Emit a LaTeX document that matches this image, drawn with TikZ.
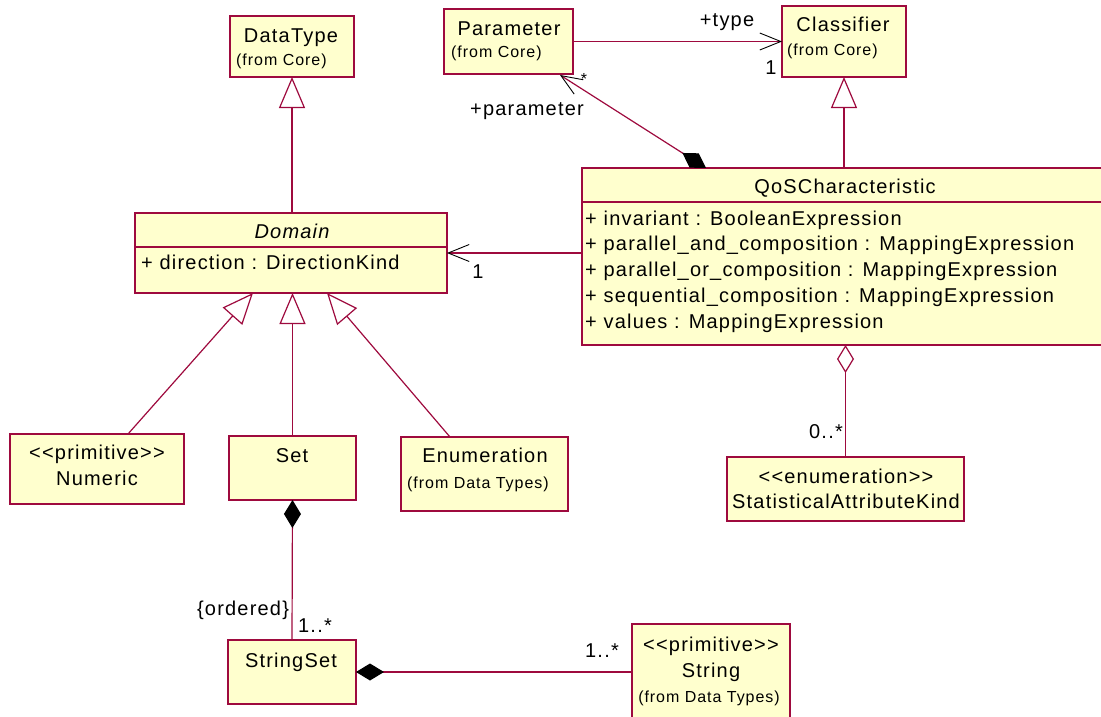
\documentclass[tikz,border=0pt]{standalone}
\usepackage{fontspec}
\setmainfont{Liberation Sans}[LetterSpace=6]
\usetikzlibrary{arrows.meta,calc}
\definecolor{umlline}{RGB}{158,10,62}
\definecolor{umlfill}{RGB}{255,255,206}
\begin{document}
\begin{tikzpicture}[x=1pt,y=-1pt,
  box/.style={draw=umlline, fill=umlfill, line width=1.3pt, inner sep=0pt, outer sep=0pt, anchor=north west},
  txt/.style={font=\fontsize{20}{24}\selectfont, inner sep=0pt, anchor=base},
  sml/.style={font=\fontsize{16}{19}\selectfont, inner sep=0pt, anchor=base},
  link/.style={draw=umlline, line width=1.2pt},
  gen/.style={link, -{Triangle[length=31pt, width=26pt, fill=white, line width=1.2pt]}},
  nav/.style={link, -{Straight Barb[length=21pt, width=17pt, color=black, line width=0.9pt]}},
  comp/.style={link, {Diamond[length=28pt, width=17pt, color=black, fill=black]}-},
  compnav/.style={link, {Diamond[length=28pt, width=17pt, color=black, fill=black]}-{Straight Barb[length=21pt, width=17pt, color=black, line width=0.9pt]}},
  agg/.style={link, {Diamond[length=28pt, width=17pt, fill=white, line width=1.2pt]}-}
]
\useasboundingbox (0,0) rectangle (1101,717);

% classes
\node[box, minimum width=124pt, minimum height=61pt] (dt)  at (230,16)  {};
\node[box, minimum width=129pt, minimum height=65pt] (par) at (444,9)   {};
\node[box, minimum width=124pt, minimum height=71pt] (cls) at (782,6)   {};
\node[box, minimum width=312pt, minimum height=80pt] (dom) at (135,213) {};
\node[box, minimum width=526pt, minimum height=177pt] (qos) at (582,168) {};
\node[box, minimum width=174pt, minimum height=70pt] (num) at (10,434)  {};
\node[box, minimum width=127pt, minimum height=64pt] (set) at (229,436) {};
\node[box, minimum width=167pt, minimum height=74pt] (enu) at (401,437) {};
\node[box, minimum width=237pt, minimum height=64pt] (stat) at (727,457) {};
\node[box, minimum width=128pt, minimum height=64pt] (sst) at (228,640) {};
\node[box, minimum width=158pt, minimum height=96pt] (str) at (632,624) {};

% compartment lines
\draw[draw=umlline, line width=1.3pt] ($(dom.north west)+(0,34)$) -- ($(dom.north east)+(0,34)$);
\draw[draw=umlline, line width=1.3pt] ($(qos.north west)+(0,34)$) -- ($(qos.north east)+(0,34)$);

% class texts
\node[txt] (dtT) at (291,43) {DataType};
\node[sml, anchor=base west] (dtF) at (236,66) {(from Core)};
\node[txt] (parT) at (509,36) {Parameter};
\node[sml, anchor=base west] (parF) at (451,58) {(from Core)};
\node[txt] (clsT) at (843,32) {Classifier};
\node[sml, anchor=base west] (clsF) at (787,56) {(from Core)};
\node[txt, font=\fontsize{20}{24}\selectfont\itshape] (domT) at (292,238) {Domain};
\node[txt, anchor=base west] (domA) at (141,269) {+ direction : DirectionKind};
\node[txt] (qosT) at (845,193) {QoSCharacteristic};
\node[txt, anchor=base west] (qa1) at (585,225) {+ invariant : BooleanExpression};
\node[txt, anchor=base west] (qa2) at (585,250.75) {+ parallel\_and\_composition : MappingExpression};
\node[txt, anchor=base west] (qa3) at (585,276.5) {+ parallel\_or\_composition : MappingExpression};
\node[txt, anchor=base west] (qa4) at (585,302.25) {+ sequential\_composition : MappingExpression};
\node[txt, anchor=base west] (qa5) at (585,328) {+ values : MappingExpression};
\node[txt] (numS) at (97,459) {<{}<primitive>{}>};
\node[txt] (numT) at (97,485) {Numeric};
\node[txt] (setT) at (292,462) {Set};
\node[txt] (enuT) at (485,462) {Enumeration};
\node[sml, anchor=base west] (enuF) at (407,488) {(from Data Types)};
\node[txt] (statS) at (846,483) {<{}<enumeration>{}>};
\node[txt] (statT) at (846,508) {StatisticalAttributeKind};
\node[txt] (sstT) at (291,667) {StringSet};
\node[txt] (strS) at (711,651) {<{}<primitive>{}>};
\node[txt] (strT) at (711,677) {String};
\node[sml] (strF) at (709,702) {(from Data Types)};

% generalizations
\draw[gen] (dt.south |- dom.north) -- (dt.south);
\draw[gen] (cls.south |- qos.north) -- (cls.south);
\draw[gen] ($(num.north west)+(118,0)$) -- ($(dom.south west)+(118,0)$);
\draw[gen] (set.north) -- (set.north |- dom.south);
\draw[gen] ($(enu.north west)+(49,0)$) -- ($(dom.south west)+(192,0)$);

% associations
\draw[nav] (par.east) -- (cls.west);
\draw[nav] (qos.west |- dom.east) -- (dom.east);
\draw[compnav] ($(qos.north west)+(124,0)$) -- ($(par.south east)+(-13,1)$);
\draw[comp] (set.south) -- (sst.north);
\draw[comp] (sst.east) -- (str.west);
\draw[agg] (qos.south -| stat.north) -- (stat.north);

% association end labels
\node[txt] (lType) at (727,27) {+type};
\node[txt] (lOne1) at (771,75) {1};
\node[sml, anchor=north] (lStar) at (584,73) {*};
\node[txt] (lPar) at (527,115) {+parameter};
\node[txt] (lOne2) at (478,278) {1};
\node[txt] (lZero) at (826,438) {0..*};
\node[txt] (lOrd) at (243,615) {\{ordered\}};
\node[txt] (lMul1) at (315,632) {1..*};
\node[txt] (lMul2) at (602,657) {1..*};
\end{tikzpicture}
\end{document}
